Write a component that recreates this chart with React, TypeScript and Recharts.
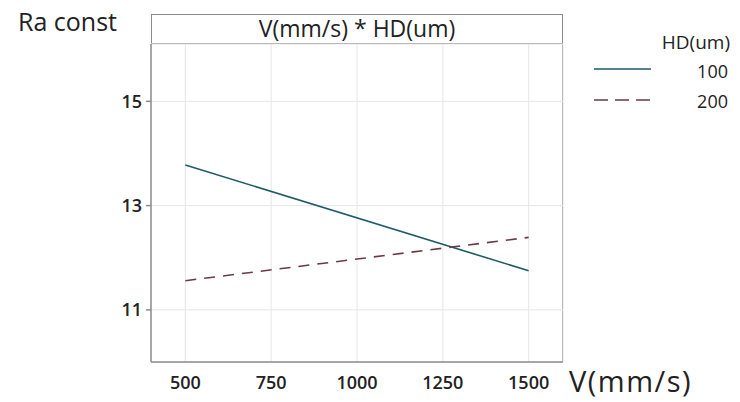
import { CartesianGrid, Legend, Line, LineChart, XAxis, YAxis } from "recharts";

const speeds = [500, 1500];
const hd100 = [13.78, 11.75];
const hd200 = [11.56, 12.39];
const xTicks = [500, 750, 1000, 1250, 1500];
const yTicks = [11, 13, 15];

const data = speeds.map((v, i) => ({ v, hd100: hd100[i], hd200: hd200[i] }));

const font = "'Open Sans', sans-serif";

function LegendBox() {
  return (
    <div style={{ fontFamily: font, color: "#222" }}>
      <div style={{ position: "absolute", right: 10, top: 29, fontSize: 19, textAlign: "right" }}>HD(um)</div>
      <svg style={{ position: "absolute", left: 590, top: 60 }} width={70} height={50}>
        <line x1={4} y1={9} x2={61} y2={9} stroke="#1d5c63" strokeWidth={1.6} />
        <line x1={4} y1={40} x2={61} y2={40} stroke="#6b3a44" strokeWidth={1.6} strokeDasharray="14 7" />
      </svg>
      <div style={{ position: "absolute", right: 12, top: 59, fontSize: 18 }}>100</div>
      <div style={{ position: "absolute", right: 12, top: 89, fontSize: 18 }}>200</div>
    </div>
  );
}

export default function App() {
  return (
    <div style={{ position: "absolute", left: 0, top: 0, width: 740, height: 402, background: "#fff", fontFamily: font }}>
      <div style={{ position: "absolute", left: 18, top: 4, fontSize: 25, color: "#222" }}>Ra const</div>
      <div
        style={{
          position: "absolute",
          left: 151,
          top: 14,
          width: 412,
          height: 30,
          border: "1.5px solid #8c8c8c",
          boxSizing: "border-box",
          textAlign: "center",
          fontSize: 23,
          lineHeight: "27px",
          color: "#222",
        }}
      >
        V(mm/s) * HD(um)
      </div>
      <div
        style={{
          position: "absolute",
          left: 562,
          top: 44,
          width: 0,
          height: 318,
          borderLeft: "1.5px solid #8c8c8c",
        }}
      />
      <LineChart width={740} height={402} data={data} margin={{ top: 44, right: 177, bottom: 0, left: 101 }}>
        <CartesianGrid stroke="#e6e6e6" strokeWidth={1} />
        <XAxis
          dataKey="v"
          type="number"
          domain={[400, 1600]}
          ticks={xTicks}
          height={40}
          tickLine={false}
          tickSize={6}
          tickMargin={8}
          stroke="#8c8c8c"
          strokeWidth={1.5}
          tick={{ fill: "#222", fontSize: 18, fontWeight: 600, fontFamily: font }}
        />
        <YAxis
          type="number"
          domain={[10, 16.1]}
          ticks={yTicks}
          width={50}
          tickSize={5}
          tickMargin={4}
          stroke="#8c8c8c"
          strokeWidth={1.5}
          tick={{ fill: "#222", fontSize: 18, fontWeight: 600, fontFamily: font }}
        />
        <Legend content={() => <LegendBox />} wrapperStyle={{ position: "absolute", left: 0, top: 0, width: 740 }} />
        <Line
          type="linear"
          dataKey="hd100"
          stroke="#1d5c63"
          strokeWidth={1.6}
          dot={false}
          isAnimationActive={false}
        />
        <Line
          type="linear"
          dataKey="hd200"
          stroke="#6b3a44"
          strokeWidth={1.6}
          strokeDasharray="11 8"
          dot={false}
          isAnimationActive={false}
        />
      </LineChart>
      <div style={{ position: "absolute", left: 569, top: 361, fontSize: 29, letterSpacing: 1.5, color: "#222" }}>
        V(mm/s)
      </div>
    </div>
  );
}
